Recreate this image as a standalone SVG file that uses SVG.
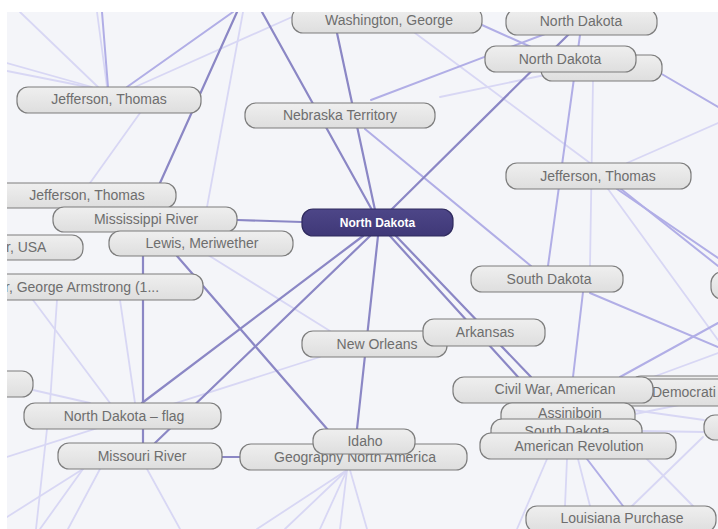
<svg xmlns="http://www.w3.org/2000/svg" width="718" height="529" viewBox="0 0 718 529">
<style>
.n rect{fill:url(#g);stroke:#7d7d7d;stroke-width:1.2}
.n text{font-family:"Liberation Sans",Arial,sans-serif;font-size:14px;fill:#6e6e6e;text-anchor:middle}
.n text.s{text-anchor:start}
#n-center rect{fill:url(#gc);stroke:#2f2a5e}
#n-center text{fill:#ffffff;font-weight:bold;font-size:12px}
.e line{stroke-linecap:round;fill:none}
.d{stroke:#8b87c5;stroke-width:2.2}
.m{stroke:#b1aee6;stroke-width:2}
.l{stroke:#d8d7f4;stroke-width:1.8}
</style>
<defs>
<linearGradient id="g" x1="0" y1="0" x2="0" y2="1">
<stop offset="0" stop-color="#efefef"/>
<stop offset="1" stop-color="#dedede"/>
</linearGradient>
<linearGradient id="gc" x1="0" y1="0" x2="0" y2="1">
<stop offset="0" stop-color="#4d4688"/>
<stop offset="1" stop-color="#3f3877"/>
</linearGradient>
<clipPath id="clip"><rect x="7" y="12" width="711" height="517"/></clipPath>
</defs>
<rect x="0" y="0" width="718" height="529" fill="#ffffff"/>
<g clip-path="url(#clip)">
<rect x="7" y="12" width="711" height="517" fill="#f4f5f9"/>
<g id="connectors" class="e">
<line class="l" x1="97" y1="12" x2="107" y2="87"/>
<line class="m" x1="102" y1="12" x2="108" y2="87"/>
<line class="l" x1="7" y1="63" x2="92" y2="87"/>
<line class="l" x1="7" y1="71" x2="88" y2="87"/>
<line class="l" x1="20" y1="12" x2="98" y2="87"/>
<line class="m" x1="127" y1="87" x2="233" y2="12"/>
<line class="l" x1="135" y1="87" x2="292" y2="17"/>
<line class="l" x1="243" y1="12" x2="207" y2="207"/>
<line class="l" x1="140" y1="113" x2="90" y2="183"/>
<line class="l" x1="415" y1="33" x2="590" y2="163"/>
<line class="l" x1="593" y1="81" x2="590" y2="266"/>
<line class="m" x1="660" y1="73" x2="718" y2="107"/>
<line class="l" x1="627" y1="163" x2="718" y2="123"/>
<line class="l" x1="440" y1="97" x2="545" y2="75"/>
<line class="m" x1="617" y1="189" x2="718" y2="258"/>
<line class="m" x1="621" y1="189" x2="718" y2="266"/>
<line class="l" x1="608" y1="189" x2="718" y2="340"/>
<line class="m" x1="590" y1="293" x2="718" y2="347"/>
<line class="m" x1="620" y1="377" x2="718" y2="323"/>
<line class="l" x1="653" y1="377" x2="718" y2="353"/>
<line class="l" x1="635" y1="414" x2="718" y2="397"/>
<line class="l" x1="641" y1="431" x2="705" y2="432"/>
<line class="l" x1="633" y1="410" x2="704" y2="420"/>
<line class="l" x1="200" y1="250" x2="330" y2="331"/>
<line class="l" x1="7" y1="457" x2="320" y2="357"/>
<line class="l" x1="57" y1="300" x2="50" y2="403"/>
<line class="l" x1="33" y1="300" x2="110" y2="403"/>
<line class="l" x1="120" y1="300" x2="135" y2="403"/>
<line class="l" x1="33" y1="390" x2="90" y2="403"/>
<line class="l" x1="83" y1="469" x2="40" y2="529"/>
<line class="l" x1="100" y1="469" x2="68" y2="529"/>
<line class="l" x1="147" y1="469" x2="180" y2="529"/>
<line class="l" x1="47" y1="429" x2="36" y2="529"/>
<line class="l" x1="7" y1="517" x2="83" y2="469"/>
<line class="l" x1="347" y1="470" x2="257" y2="529"/>
<line class="l" x1="347" y1="470" x2="285" y2="529"/>
<line class="l" x1="347" y1="470" x2="320" y2="529"/>
<line class="l" x1="347" y1="470" x2="340" y2="529"/>
<line class="l" x1="350" y1="470" x2="367" y2="529"/>
<line class="m" x1="587" y1="459" x2="623" y2="506"/>
<line class="l" x1="567" y1="459" x2="565" y2="506"/>
<line class="l" x1="578" y1="459" x2="590" y2="506"/>
<line class="l" x1="547" y1="459" x2="517" y2="529"/>
<line class="l" x1="703" y1="437" x2="632" y2="506"/>
<line class="l" x1="643" y1="455" x2="693" y2="506"/>
<line class="m" x1="365" y1="129" x2="531" y2="266"/>
<line class="m" x1="580" y1="35" x2="548" y2="266"/>
<line class="m" x1="583" y1="292" x2="573" y2="377"/>
<line class="m" x1="482" y1="25" x2="560" y2="60"/>
<line class="m" x1="371" y1="100" x2="545" y2="34"/>
<line class="d" x1="237" y1="12" x2="160" y2="183"/>
<line class="d" x1="262" y1="12" x2="372" y2="210"/>
<line class="d" x1="337" y1="33" x2="375" y2="210"/>
<line class="d" x1="391" y1="210" x2="569" y2="34"/>
<line class="d" x1="237" y1="220" x2="302" y2="222"/>
<line class="d" x1="143" y1="232" x2="143" y2="443"/>
<line class="d" x1="177" y1="256" x2="328" y2="430"/>
<line class="d" x1="363" y1="236" x2="142" y2="403"/>
<line class="d" x1="370" y1="236" x2="155" y2="443"/>
<line class="d" x1="378" y1="236" x2="357" y2="429"/>
<line class="d" x1="390" y1="236" x2="518" y2="377"/>
<line class="d" x1="396" y1="236" x2="531" y2="377"/>
<line class="d" x1="222" y1="457" x2="240" y2="457"/>
</g>
<g id="n-washington" class="n"><rect x="292" y="7" width="190" height="26" rx="11"/><text x="389" y="25">Washington, George</text></g>
<g id="n-nd-top" class="n"><rect x="506" y="9" width="151" height="26" rx="11"/><text x="581" y="26">North Dakota</text></g>
<g id="n-hidden" class="n"><rect x="541" y="55" width="121" height="26" rx="11"/></g>
<g id="n-nd-second" class="n"><rect x="485" y="46" width="151" height="26" rx="11"/><text x="560" y="64">North Dakota</text></g>
<g id="n-jefferson-tl" class="n"><rect x="17" y="87" width="184" height="26" rx="11"/><text x="109" y="104">Jefferson, Thomas</text></g>
<g id="n-nebraska" class="n"><rect x="245" y="103" width="190" height="25" rx="11"/><text x="340" y="120">Nebraska Territory</text></g>
<g id="n-jefferson-r" class="n"><rect x="506" y="163" width="185" height="26" rx="11"/><text x="598" y="181">Jefferson, Thomas</text></g>
<g id="n-jefferson-l" class="n"><rect x="-10" y="183" width="186" height="25" rx="11"/><text x="87" y="200">Jefferson, Thomas</text></g>
<g id="n-mississippi" class="n"><rect x="53" y="207" width="184" height="25" rx="11"/><text x="146" y="224">Mississippi River</text></g>
<g id="n-usa" class="n"><rect x="-60" y="235" width="143" height="25" rx="11"/><text class="s" x="6" y="252">r, USA</text></g>
<g id="n-lewis" class="n"><rect x="109" y="231" width="184" height="25" rx="11"/><text x="202" y="248">Lewis, Meriwether</text></g>
<g id="n-center" class="n"><rect x="302" y="209" width="151" height="27" rx="11"/><text x="377.5" y="226.5">North Dakota</text></g>
<g id="n-custer" class="n"><rect x="-60" y="274" width="263" height="26" rx="11"/><text class="s" x="5" y="292">r, George Armstrong (1...</text></g>
<g id="n-left" class="n"><rect x="-60" y="371" width="93" height="26" rx="11"/></g>
<g id="n-flag" class="n"><rect x="24" y="403" width="197" height="26" rx="11"/><text x="124" y="421">North Dakota – flag</text></g>
<g id="n-missouri" class="n"><rect x="58" y="443" width="164" height="26" rx="11"/><text x="142" y="461">Missouri River</text></g>
<g id="n-geography" class="n"><rect x="240" y="444" width="227" height="26" rx="11"/><text x="355" y="462">Geography North America</text></g>
<g id="n-idaho" class="n"><rect x="313" y="429" width="102" height="25" rx="11"/><text x="365" y="446">Idaho</text></g>
<g id="n-neworleans" class="n"><rect x="302" y="331" width="145" height="26" rx="11"/><text x="377" y="349">New Orleans</text></g>
<g id="n-arkansas" class="n"><rect x="423" y="319" width="122" height="27" rx="11"/><text x="485" y="337">Arkansas</text></g>
<g id="n-sd-upper" class="n"><rect x="471" y="266" width="152" height="26" rx="11"/><text x="549" y="284">South Dakota</text></g>
<g id="n-right-a" class="n"><rect x="711" y="272" width="60" height="27" rx="11"/></g>
<g id="n-behind-dem" class="n"><rect x="630" y="376" width="110" height="26" rx="11"/></g>
<g id="n-democratic" class="n"><rect x="618" y="379" width="130" height="27" rx="11"/><text class="s" x="652" y="397">Democrati</text></g>
<g id="n-civilwar" class="n"><rect x="453" y="377" width="200" height="26" rx="11"/><text x="555" y="394">Civil War, American</text></g>
<g id="n-assiniboin" class="n"><rect x="501" y="403" width="134" height="26" rx="11"/><text x="570" y="418">Assiniboin</text></g>
<g id="n-sd-lower" class="n"><rect x="491" y="419" width="151" height="26" rx="11"/><text x="567" y="436">South Dakota</text></g>
<g id="n-right-b" class="n"><rect x="704" y="415" width="60" height="25" rx="11"/></g>
<g id="n-amrev" class="n"><rect x="480" y="433" width="196" height="26" rx="11"/><text x="579" y="451">American Revolution</text></g>
<g id="n-louisiana" class="n"><rect x="526" y="506" width="190" height="26" rx="11"/><text x="622" y="523">Louisiana Purchase</text></g>
</g>
</svg>
